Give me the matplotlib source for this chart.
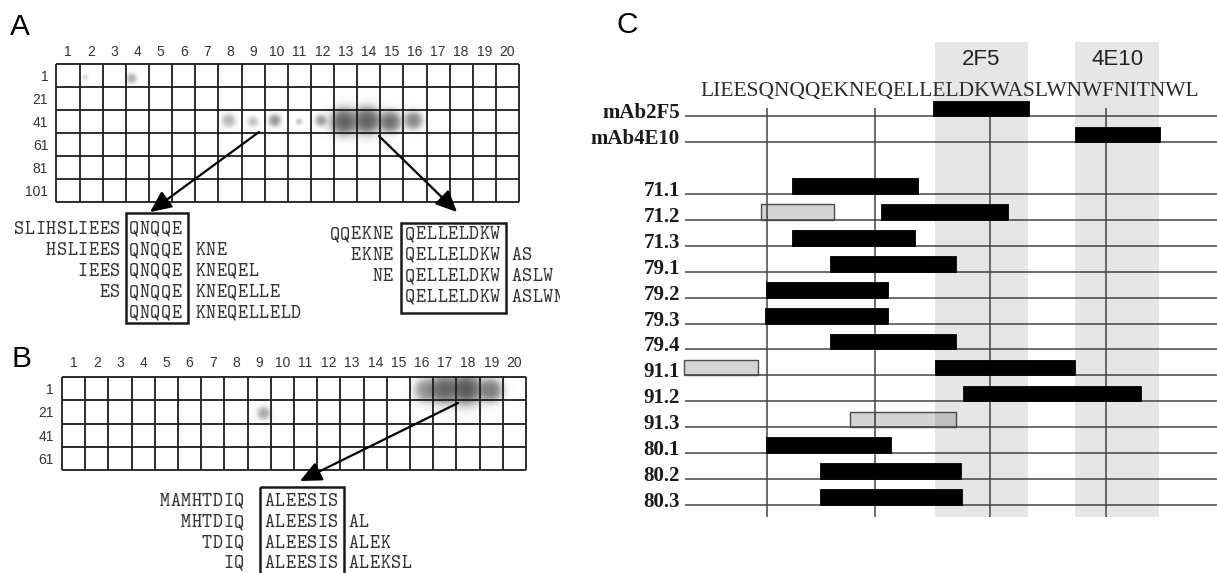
import numpy as np
import matplotlib
matplotlib.use("Agg")
import matplotlib.pyplot as plt
from matplotlib.patches import Rectangle, FancyArrowPatch
from matplotlib.transforms import Bbox, TransformedBbox

W, H = 1217, 573

# ---------------- data ----------------
A_cols = list(range(1, 21))
A_row_labels = ["1", "21", "41", "61", "81", "101"]
B_cols = list(range(1, 21))
B_row_labels = ["1", "21", "41", "61"]

# spots: column, row (cell units), intensity, radius (cells)
A_spot_col = [1.75, 3.75, 7.95, 9.0, 9.95, 11.0, 11.95, 12.95, 13.95, 14.95, 15.95]
A_spot_row = [1.05, 1.1, 2.95, 3.0, 2.95, 3.0, 2.95, 3.0, 2.95, 3.0, 2.95]
A_spot_int = [0.2, 0.45, 0.42, 0.35, 0.6, 0.35, 0.55, 0.93, 0.93, 0.84, 0.7]
A_spot_rad = [0.12, 0.2, 0.26, 0.2, 0.24, 0.12, 0.22, 0.52, 0.52, 0.42, 0.35]

B_spot_col = [16.2, 17.0, 17.95, 19.0, 9.2]
B_spot_row = [1.05, 1.0, 1.0, 1.05, 2.05]
B_spot_int = [0.6, 0.9, 0.97, 0.75, 0.5]
B_spot_rad = [0.45, 0.56, 0.6, 0.46, 0.25]

# peptide alignments
A1_prefix = ["SLIHSLIEES", "HSLIEES", "IEES", "ES", ""]
A1_core = "QNQQE"
A1_suffix = ["", "KNE", "KNEQEL", "KNEQELLE", "KNEQELLELD"]

A2_prefix = ["QQEKNE", "EKNE", "NE", ""]
A2_core = "QELLELDKW"
A2_suffix = ["", "AS", "ASLW", "ASLWNW"]

B1_prefix = ["MAMHTDIQ", "MHTDIQ", "TDIQ", "IQ"]
B1_core = "ALEESIS"
B1_suffix = ["", "AL", "ALEK", "ALEKSL"]

# panel C
C_sequence = "LIEESQNQQEKNEQELLELDKWASLWNWFNITNWL"
C_epitope_names = ["2F5", "4E10"]
C_epitope_start = [16.75, 26.44]
C_epitope_end = [23.19, 32.28]
C_guides = [5.16, 12.59, 20.59, 28.58]
C_rows = ["mAb2F5", "mAb4E10", "71.1", "71.2", "71.3", "79.1", "79.2", "79.3",
          "79.4", "91.1", "91.2", "91.3", "80.1", "80.2", "80.3"]
C_bar_row = ["mAb2F5", "mAb4E10", "71.1", "71.2", "71.2", "71.3", "79.1", "79.2",
             "79.3", "79.4", "91.1", "91.1", "91.2", "91.3", "80.1", "80.2", "80.3"]
C_bar_start = [16.62, 26.44, 6.86, 4.72, 13.05, 6.86, 9.49, 5.07,
               4.97, 9.49, -0.64, 16.73, 18.69, 10.88, 5.07, 8.83, 8.83]
C_bar_end = [23.26, 32.32, 15.58, 9.77, 21.77, 15.37, 18.21, 13.5,
             13.5, 18.21, 4.48, 26.45, 30.97, 18.21, 13.68, 18.55, 18.62]
C_bar_kind = ["black", "black", "black", "gray", "black", "black", "black", "black",
              "black", "black", "gray", "black", "black", "gray", "black", "black", "black"]

# ---------------- figure ----------------
fig = plt.figure(figsize=(W / 100, H / 100), dpi=100)
SANS = "Liberation Sans"
SERIF = "Liberation Serif"
MONO = "cmtt10"


def px_axes(l, t, r, b):
    return fig.add_axes([l / W, 1 - b / H, (r - l) / W, (b - t) / H])


def draw_spots(ax, cols, rows, inten, rad, ncols, nrows):
    xs = np.linspace(0.5, ncols + 0.5, ncols * 20)
    ys = np.linspace(0.5, nrows + 0.5, nrows * 20)
    X, Y = np.meshgrid(xs, ys)
    keep = np.ones_like(X)
    for c, r, a, s in zip(cols, rows, inten, rad):
        d = np.hypot(X - c, Y - r)
        ai = a / (1 + np.exp((d - s) / (0.26 * s)))
        keep *= (1 - ai)
    img = np.zeros(X.shape + (4,))
    img[..., :3] = 0.32
    img[..., 3] = 1 - keep
    ax.imshow(img, extent=(0.5, ncols + 0.5, nrows + 0.5, 0.5), origin="upper",
              interpolation="bilinear", aspect="auto", zorder=1)


def grid_panel(rect, cols, row_labels, sc, sr, si, srad, xpad, ypad):
    ax = px_axes(*rect)
    ncols, nrows = len(cols), len(row_labels)
    draw_spots(ax, sc, sr, si, srad, ncols, nrows)
    ax.vlines(np.arange(0.5, ncols + 1), 0.5, nrows + 0.5, color="#1c1c1c", lw=1.3,
              zorder=3, clip_on=False)
    ax.hlines(np.arange(0.5, nrows + 1), 0.5, ncols + 0.5, color="#1c1c1c", lw=1.3,
              zorder=3, clip_on=False)
    ax.set_xlim(0.5, ncols + 0.5)
    ax.set_ylim(nrows + 0.5, 0.5)
    for s in ax.spines.values():
        s.set_visible(False)
    ax.xaxis.tick_top()
    ax.set_xticks(range(1, ncols + 1))
    ax.set_xticklabels([str(c) for c in cols], fontfamily=SANS, fontsize=10, color="#333333")
    ax.set_yticks(range(1, nrows + 1))
    ax.set_yticklabels(row_labels, fontfamily=SANS, fontsize=10, color="#333333")
    ax.tick_params(axis="x", length=0, pad=xpad)
    ax.tick_params(axis="y", length=0, pad=ypad)
    return ax


grid_panel((56.5, 64.5, 519, 202), A_cols, A_row_labels,
           A_spot_col, A_spot_row, A_spot_int, A_spot_rad, 4.0, 6.0)
grid_panel((62, 377, 526, 470), B_cols, B_row_labels,
           B_spot_col, B_spot_row, B_spot_int, B_spot_rad, 5.0, 6.0)

# ---------------- panel C ----------------
f_x = lambda px: (px - 700) / 14.457 + 0.5
f_y = lambda py: (py - 116.3) / 25.9
axC = px_axes(685, 42, 1217, 517)
axC.set_xlim(f_x(685), f_x(1217))
axC.set_ylim(f_y(517), f_y(42))
axC.axis("off")

row_y = {name: (i if i < 2 else i + 1) for i, name in enumerate(C_rows)}

for s, e in zip(C_epitope_start, C_epitope_end):
    axC.axvspan(s, e, color="#e6e6e6", lw=0, zorder=0)
for name, s, e in zip(C_epitope_names, C_epitope_start, C_epitope_end):
    axC.text((s + e) / 2, f_y(65), name, ha="center", va="baseline",
             fontfamily=SANS, fontsize=16, color="#222222", zorder=5)

axC.text(0.5, f_y(96), C_sequence, ha="left", va="baseline",
         fontfamily=SERIF, fontsize=15.5, color="#2a2a2a", zorder=5)

ys = [row_y[n] for n in C_rows]
axC.hlines(ys, f_x(685), f_x(1217), color="#444444", lw=1.1, zorder=1)
axC.vlines(C_guides, f_y(108), f_y(517), color="#444444", lw=1.1, zorder=1)

for n in C_rows:
    axC.text(f_x(680), row_y[n] + 0.08, n, ha="right", va="baseline",
             fontfamily=SERIF, fontweight="bold", fontsize=15, color="#1a1a1a",
             clip_on=False)

bh = 0.6
for rname, s, e, kind in zip(C_bar_row, C_bar_start, C_bar_end, C_bar_kind):
    y = row_y[rname]
    if kind == "black":
        bars = axC.barh(y - bh, e - s, height=bh, left=s, align="edge",
                        color="black", edgecolor="black", lw=0.6, zorder=3)
    else:
        bars = axC.barh(y - bh, e - s, height=bh, left=s, align="edge",
                        facecolor=(0, 0, 0, 0.17), edgecolor="#4a4a4a", lw=1.0, zorder=3)
    for b in bars:
        b.set_clip_on(False)

# ---------------- overlay: letters, arrows, alignments ----------------
ov = fig.add_axes([0, 0, 1, 1])
ov.set_xlim(0, W)
ov.set_ylim(H, 0)
ov.axis("off")
ov.patch.set_alpha(0)

for letter, x, y in [("A", 10, 35), ("B", 12, 367), ("C", 616, 33)]:
    ov.text(x, y, letter, ha="left", va="baseline", fontfamily=SANS, fontsize=21.5, color="black")

for (x0, y0), (x1, y1) in [((259, 132), (150, 212)), ((379, 136), (457, 212)),
                           ((458, 403), (300, 481))]:
    ov.add_patch(FancyArrowPatch((x0, y0), (x1, y1),
                                 arrowstyle="-|>,head_length=1.3,head_width=0.6",
                                 mutation_scale=10, lw=1.6, color="black",
                                 shrinkA=0, shrinkB=0, zorder=6))

clipbox = TransformedBbox(Bbox([[0, 0], [560, H]]), ov.transData)
PITCH = 10.6


def mono_text(x, y, s, align):
    n = len(s)
    x0 = x - n * PITCH if align == "right" else x
    for k, ch in enumerate(s):
        t = ov.text(x0 + (k + 0.5) * PITCH, y, ch, ha="center", va="baseline",
                    fontfamily=MONO, fontsize=13.8, color="#333333")
        t.set_clip_box(clipbox)
        t.set_clip_on(True)


def alignment(prefix, core, suffix, baselines, x_pre, x_core, x_suf, box):
    for p, s, y in zip(prefix, suffix, baselines):
        mono_text(x_pre, y, p, "right")
        mono_text(x_core, y, core, "left")
        mono_text(x_suf, y, s, "left")
    l, t_, r, b = box
    ov.add_patch(Rectangle((l, t_), r - l, b - t_, fill=False, lw=1.8,
                           edgecolor="#1a1a1a", zorder=5, clip_on=False))


alignment(A1_prefix, A1_core, A1_suffix, [234, 255, 276, 297, 318],
          120, 128.6, 195, (126, 213, 187.5, 323))
alignment(A2_prefix, A2_core, A2_suffix, [239, 260, 281, 302],
          393, 405, 511, (401, 223, 506, 313))
alignment(B1_prefix, B1_core, B1_suffix, [506, 527, 548, 568],
          244, 264, 348, (260, 487, 344, 590))

fig.savefig("out.png", dpi=100)
